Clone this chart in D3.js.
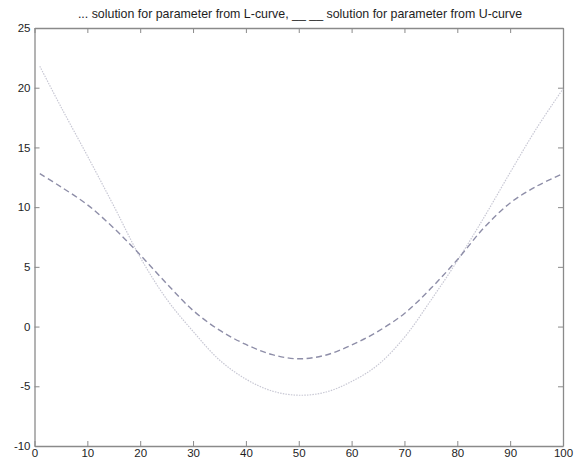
<!DOCTYPE html>
<html>
<head>
<meta charset="utf-8">
<script src="https://cdn.jsdelivr.net/npm/d3@7"></script>
<style>
  html, body { margin: 0; padding: 0; background: #fff; }
  svg { display: block; }
</style>
</head>
<body>
<svg id="chart" width="580" height="460"></svg>
<script>
// Sample positions along the profile
const xs = [1, 5, 10, 15, 20, 25, 30, 35, 40, 45, 50, 55, 60, 65, 70, 75, 80, 85, 90, 95, 100];
// Solution with the regularisation parameter chosen from the L-curve (dotted)
const lCurve = [21.8, 18.4, 14.3, 10.1, 5.8, 2.3, -0.4, -2.8, -4.4, -5.4, -5.75, -5.5, -4.6, -3.2, -0.9, 2.2, 5.5, 9.1, 12.9, 16.6, 19.9];
// Solution with the parameter chosen from the U-curve (dashed)
const uCurve = [12.8, 11.7, 10.2, 8.25, 6.0, 3.6, 1.35, -0.3, -1.5, -2.35, -2.7, -2.4, -1.55, -0.4, 1.1, 3.2, 5.6, 8.25, 10.35, 11.75, 12.8];
// Axis ticks
const xTicks = [0, 10, 20, 30, 40, 50, 60, 70, 80, 90, 100];
const yTicks = [-10, -5, 0, 5, 10, 15, 20, 25];
const title = "... solution for parameter from L-curve,  __  __ solution for parameter from U-curve";

const svg = d3.select("#chart");
const plotL = 34.5, plotR = 563, plotT = 28, plotB = 446;

const x = d3.scaleLinear().domain([0, 100]).range([plotL, plotR]);
const y = d3.scaleLinear().domain([-10, 25]).range([plotB, plotT]);

const axisColor = "#8a8a8a";
const tickLen = 5;
const fmt = d => String(d);   // plain hyphen for negatives

// Box with inward ticks on all four sides
function styleAxis(g) {
  g.select(".domain").attr("stroke", axisColor).attr("stroke-width", 1.3);
  g.selectAll(".tick line").attr("stroke", axisColor).attr("stroke-width", 1);
  g.selectAll(".tick text").attr("font-size", 11.5).attr("fill", "#1e1e1e")
    .attr("font-family", "'Liberation Sans', Arial, sans-serif");
}

svg.append("g").attr("transform", `translate(0,${plotB})`)
  .call(d3.axisBottom(x).tickValues(xTicks).tickSizeInner(-tickLen).tickSizeOuter(0).tickPadding(2.5).tickFormat(fmt))
  .call(styleAxis);
svg.append("g").attr("transform", `translate(0,${plotT})`)
  .call(d3.axisTop(x).tickValues(xTicks).tickSizeInner(-tickLen).tickSizeOuter(0).tickFormat(""))
  .call(styleAxis);
svg.append("g").attr("transform", `translate(${plotL},0)`)
  .call(d3.axisLeft(y).tickValues(yTicks).tickSizeInner(-tickLen).tickSizeOuter(0).tickPadding(4).tickFormat(fmt))
  .call(styleAxis);
svg.append("g").attr("transform", `translate(${plotR},0)`)
  .call(d3.axisRight(y).tickValues(yTicks).tickSizeInner(-tickLen).tickSizeOuter(0).tickFormat(""))
  .call(styleAxis);

const line = d3.line().x((d, i) => x(xs[i])).y(d => y(d)).curve(d3.curveCatmullRom.alpha(0.5));

svg.append("path").datum(lCurve)
  .attr("fill", "none").attr("stroke", "#c8c8d4").attr("stroke-width", 1.2)
  .attr("stroke-dasharray", "1.5,1.2").attr("d", line);

svg.append("path").datum(uCurve)
  .attr("fill", "none").attr("stroke", "#8e8ea8").attr("stroke-width", 1.4)
  .attr("stroke-dasharray", "6,3.5").attr("d", line);

svg.append("text")
  .attr("x", 300).attr("y", 17.5)
  .attr("text-anchor", "middle").attr("font-size", 12.4)
  .attr("font-family", "'Liberation Sans', Arial, sans-serif").attr("fill", "#1e1e1e")
  .text(title);
</script>
</body>
</html>
